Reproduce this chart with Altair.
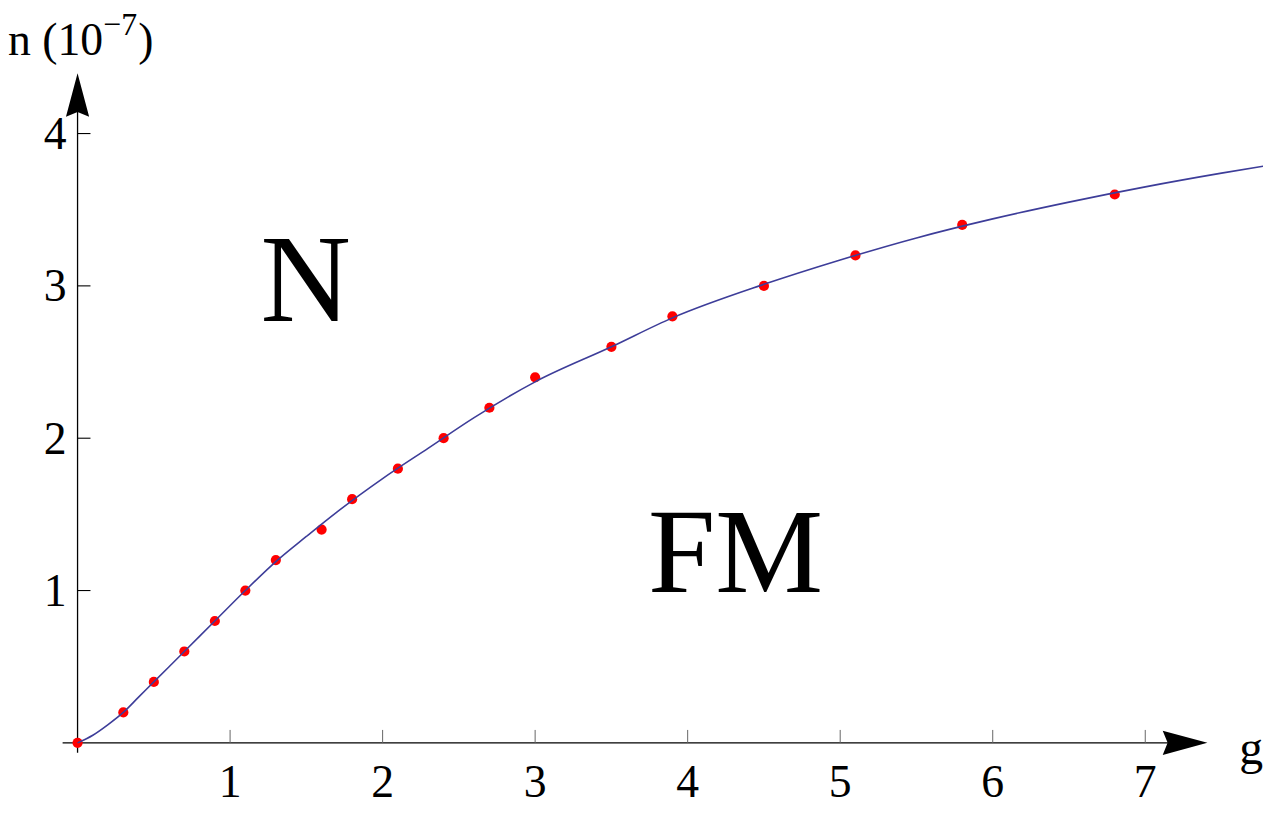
import altair as alt
import pandas as pd

# ---- data ----
point_g = [0.0, 0.3, 0.5, 0.7, 0.9, 1.1, 1.3, 1.6, 1.8, 2.1, 2.4, 2.7, 3.0, 3.5, 3.9, 4.5, 5.1, 5.8, 6.8]
point_n = [0.0, 0.2, 0.4, 0.6, 0.8, 1.0, 1.2, 1.4, 1.6, 1.8, 2.0, 2.2, 2.4, 2.6, 2.8, 3.0, 3.2, 3.4, 3.6]

curve_g = [0.0, 0.1, 0.2, 0.3, 0.4, 0.5, 0.7, 0.9, 1.1, 1.3, 1.5, 1.7, 2.0, 2.3, 2.6,
           3.0, 3.5, 3.9, 4.5, 5.0, 5.5, 6.0, 6.5, 7.0, 7.5, 7.8]
curve_n = [0.0, 0.05, 0.12, 0.2, 0.3, 0.4, 0.6, 0.8, 1.0, 1.19, 1.355, 1.515, 1.735, 1.935, 2.135,
           2.37, 2.6, 2.79, 3.01, 3.17, 3.315, 3.44, 3.55, 3.65, 3.74, 3.79]

x_ticks = [1, 2, 3, 4, 5, 6, 7]
y_ticks = [1, 2, 3, 4]
x_tick_labels = ["1", "2", "3", "4", "5", "6", "7"]
y_tick_labels = ["1", "2", "3", "4"]
region_labels = ["N", "FM"]

# ---- layout ----
W, H = 1263, 800
PX_X, PX_Y = 153.5, 153.3          # pixels per data unit
ORIGIN_X, ORIGIN_Y = 70, 737       # origin inside the chart, pixels
X0 = -ORIGIN_X / PX_X
X1 = X0 + W / PX_X
Y1 = ORIGIN_Y / PX_Y
Y0 = Y1 - H / PX_Y

xs = alt.Scale(domain=[X0, X1], nice=False, zero=False)
ys = alt.Scale(domain=[Y0, Y1], nice=False, zero=False)
FONT = "Liberation Serif"


def X(f):
    return alt.X(f, type="quantitative", scale=xs, axis=None)


def Y(f):
    return alt.Y(f, type="quantitative", scale=ys, axis=None)


# axes lines
x_axis = alt.Chart(pd.DataFrame({"a": [-0.098], "b": [7.2], "n": [0.0]})).mark_rule(
    color="black", strokeWidth=1.3).encode(x=X("a"), x2="b", y=Y("n"))
y_axis = alt.Chart(pd.DataFrame({"g": [0.0], "a": [-0.065], "b": [4.2]})).mark_rule(
    color="black", strokeWidth=1.3).encode(x=X("g"), y=Y("a"), y2="b")

# arrow heads
x_arrow = alt.Chart(pd.DataFrame({"g": [7.261], "n": [0.0]})).mark_point(
    shape="M 1 0 L -1 -0.54 L -0.78 0 L -1 0.54 Z", size=2025, filled=True,
    color="black", opacity=1, strokeWidth=0).encode(x=X("g"), y=Y("n"))
y_arrow = alt.Chart(pd.DataFrame({"g": [0.0], "n": [4.253]})).mark_point(
    shape="M 0 -1 L 0.53 1 L 0 0.78 L -0.53 1 Z", size=1936, filled=True,
    color="black", opacity=1, strokeWidth=0).encode(x=X("g"), y=Y("n"))

# ticks
xt_df = pd.DataFrame({"g": x_ticks, "label": x_tick_labels})
xt_df["n0"] = 0.0
xt_df["n1"] = 13 / PX_Y
xt_df["nl"] = -54 / PX_Y
x_tick_marks = alt.Chart(xt_df).mark_rule(color="#666666", strokeWidth=1).encode(
    x=X("g"), y=Y("n0"), y2="n1")
x_tick_text = alt.Chart(xt_df).mark_text(
    font=FONT, fontSize=46, align="center", baseline="alphabetic", color="black").encode(
    x=X("g"), y=Y("nl"), text="label:N")

yt_df = pd.DataFrame({"n": y_ticks, "label": y_tick_labels})
yt_df["g0"] = 0.0
yt_df["g1"] = 13 / PX_X
yt_df["gl"] = -11 / PX_X
yt_df["nl"] = yt_df["n"] - 15.5 / PX_Y
y_tick_marks = alt.Chart(yt_df).mark_rule(color="black", strokeWidth=1.1).encode(
    x=X("g0"), x2="g1", y=Y("n"))
y_tick_text = alt.Chart(yt_df).mark_text(
    font=FONT, fontSize=46, align="right", baseline="alphabetic", color="black").encode(
    x=X("gl"), y=Y("nl"), text="label:N")

# data
pts = alt.Chart(pd.DataFrame({"g": point_g, "n": point_n})).mark_circle(
    size=105, color="#ff0000", opacity=1).encode(x=X("g"), y=Y("n"))
curve = alt.Chart(pd.DataFrame({"g": curve_g, "n": curve_n})).mark_line(
    color="#3d3d99", strokeWidth=1.6, interpolate="monotone").encode(
    x=X("g"), y=Y("n"), order=alt.Order("g:Q"))


# texts
def txt(s, g, n, size, align="left"):
    return alt.Chart(pd.DataFrame({"g": [g], "n": [n], "t": [s]})).mark_text(
        font=FONT, fontSize=size, align=align, baseline="alphabetic", color="black").encode(
        x=X("g"), y=Y("n"), text="t:N")


n_label = txt("n (10", X0, (737 - 45) / PX_Y, 46)
n_sup = txt("\u22127", (104 - 78) / PX_X, (737 - 25) / PX_Y, 32)
n_paren = txt(")", (139 - 78) / PX_X, (737 - 45) / PX_Y, 46)
g_label = txt("g", (1247 - 78) / PX_X, (745 - 766) / PX_Y, 48)
N_label = txt(region_labels[0], (262 - 78) / PX_X, (745 - 320) / PX_Y, 126)
FM_label = txt(region_labels[1], (652 - 78) / PX_X, (745 - 593) / PX_Y, 122)

chart = alt.layer(
    x_axis, y_axis, x_tick_marks, y_tick_marks, x_arrow, y_arrow,
    x_tick_text, y_tick_text, pts, curve,
    n_label, n_sup, n_paren, g_label, N_label, FM_label,
).properties(
    width=W, height=H, padding=0, autosize=alt.AutoSizeParams(type="none"),
    background="white",
).configure_view(stroke=None)

chart.save("out.html", embed_options={"renderer": "svg", "actions": False})
